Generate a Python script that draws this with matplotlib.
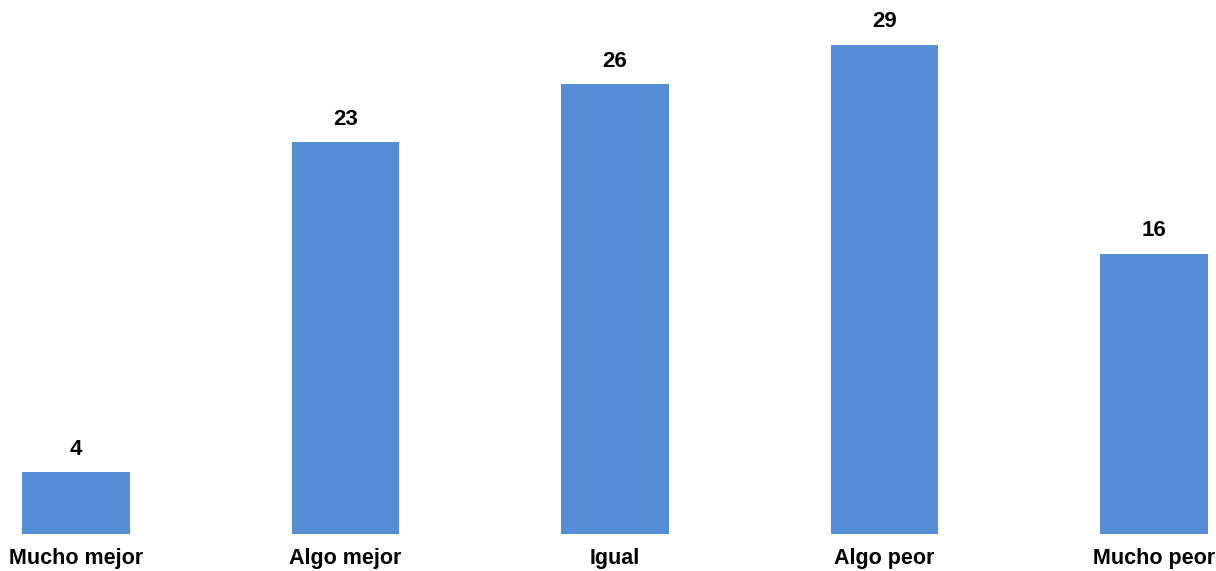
import matplotlib
matplotlib.use("Agg")
import matplotlib.pyplot as plt

categories = ["Mucho mejor", "Algo mejor", "Igual", "Algo peor", "Mucho peor"]
values = [3.6, 22.9, 26.3, 28.6, 16.4]

BAR_COLOR = "#558ED5"

fig = plt.figure(figsize=(12.16, 5.71), dpi=100)
ax = fig.add_axes([0, 37 / 571, 1, 534 / 571])

x = list(range(len(categories)))
bars = ax.bar(x, values, width=0.4, color=BAR_COLOR)

# etiquetas de valor encima de cada barra
for b, v in zip(bars, values):
    ax.annotate(f"{v:.0f}", (b.get_x() + b.get_width() / 2, v),
                xytext=(0, 9), textcoords="offset points",
                ha="center", va="bottom", fontsize=16, fontweight="bold",
                family="Liberation Sans")

ax.set_xlim(-0.282, 4.23)
ax.set_ylim(0, 31.23)
ax.set_xticks(x)
ax.set_xticklabels(categories, fontsize=15.5, fontweight="bold",
                   family="Liberation Sans")
ax.tick_params(axis="x", length=0, pad=10)
ax.set_yticks([])
for s in ax.spines.values():
    s.set_visible(False)

fig.savefig("out.png", dpi=100)
